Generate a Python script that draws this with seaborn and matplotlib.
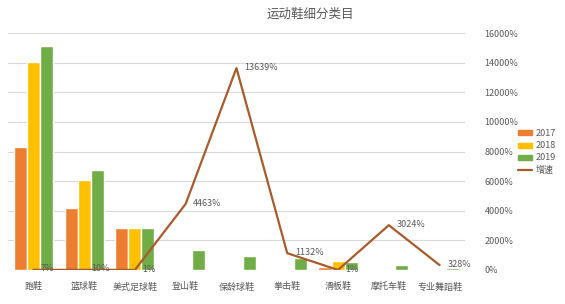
import matplotlib
matplotlib.use('Agg')
import matplotlib.pyplot as plt
import seaborn as sns
import pandas as pd
from matplotlib.lines import Line2D
from matplotlib.ticker import FuncFormatter

categories = ['跑鞋', '篮球鞋', '美式足球鞋', '登山鞋', '保龄球鞋', '拳击鞋', '滑板鞋', '摩托车鞋', '专业舞蹈鞋']
sales_2017 = [4.15, 2.08, 1.42, 0.02, 0.01, 0.03, 0.10, 0.01, 0.02]
sales_2018 = [7.03, 3.04, 1.42, 0.03, 0.02, 0.04, 0.30, 0.02, 0.03]
sales_2019 = [7.57, 3.38, 1.42, 0.68, 0.47, 0.40, 0.27, 0.17, 0.07]
growth = [7, 10, 1, 4463, 13639, 1132, 1, 3024, 328]
years = ['2017', '2018', '2019']

colors = ['#ED7D31', '#FFC000', '#70AD47']
line_color = '#A95B2C'
text_color = '#595959'

sns.set_theme(style='white')
plt.rcParams['font.family'] = ['Noto Sans CJK SC', 'DejaVu Sans']

df = pd.DataFrame({
    'cat': categories * 3,
    'val': sales_2017 + sales_2018 + sales_2019,
    'year': [y for y in years for _ in categories],
})

fig = plt.figure(figsize=(5.65, 3.04), dpi=100)
ax = fig.add_axes([0.014, 0.112, 0.809, 0.779])

sns.barplot(data=df, x='cat', y='val', hue='year', palette=colors,
            saturation=1, width=0.77, gap=0, ax=ax, legend=False)

ax2 = ax.twinx()
gdf = pd.DataFrame({'x': range(len(categories)), 'g': growth})
sns.lineplot(data=gdf, x='x', y='g', color=line_color, linewidth=1.6, ax=ax2)

# 主轴：隐藏刻度，只保留网格
ax.set_ylim(0, 8)
ax.set_yticks(range(0, 9))
ax.yaxis.grid(True, color='#D9D9D9', linewidth=0.8)
ax.set_axisbelow(True)
ax.tick_params(axis='y', left=False, right=False, labelleft=False)
ax.tick_params(axis='x', bottom=False, labelsize=6.5, labelcolor=text_color, pad=3)
ax.set_xlabel('')
ax.set_ylabel('')

# 次轴：增速百分比
ax2.set_ylim(0, 16000)
ax2.set_yticks(range(0, 16001, 2000))
ax2.yaxis.set_major_formatter(FuncFormatter(lambda v, p: f'{int(v)}%'))
ax2.tick_params(axis='y', left=False, right=False, labelsize=6.5, labelcolor=text_color, pad=8)
ax2.set_ylabel('')
ax2.set_xlabel('')
for a in (ax, ax2):
    for s in a.spines.values():
        s.set_visible(False)
    a.set_xlim(-0.5, len(categories) - 0.5)

for i, g in enumerate(growth):
    ax2.text(i + 0.15, g + 60, f'{g}%', fontsize=6.5, color=text_color,
             ha='left', va='center')

fig.suptitle('运动鞋细分类目', x=0.55, y=0.975, fontsize=9, color=text_color)

handles = [plt.Rectangle((0, 0), 1, 1, color=c) for c in colors]
handles.append(Line2D([0], [0], color=line_color, linewidth=1.6))
fig.legend(handles, years + ['增速'], loc='center left', bbox_to_anchor=(0.902, 0.5),
           frameon=False, fontsize=6.5, labelcolor=text_color,
           handlelength=1.6, handleheight=0.5, handletextpad=0.4, labelspacing=0.35)

fig.savefig('out.png', dpi=100)
